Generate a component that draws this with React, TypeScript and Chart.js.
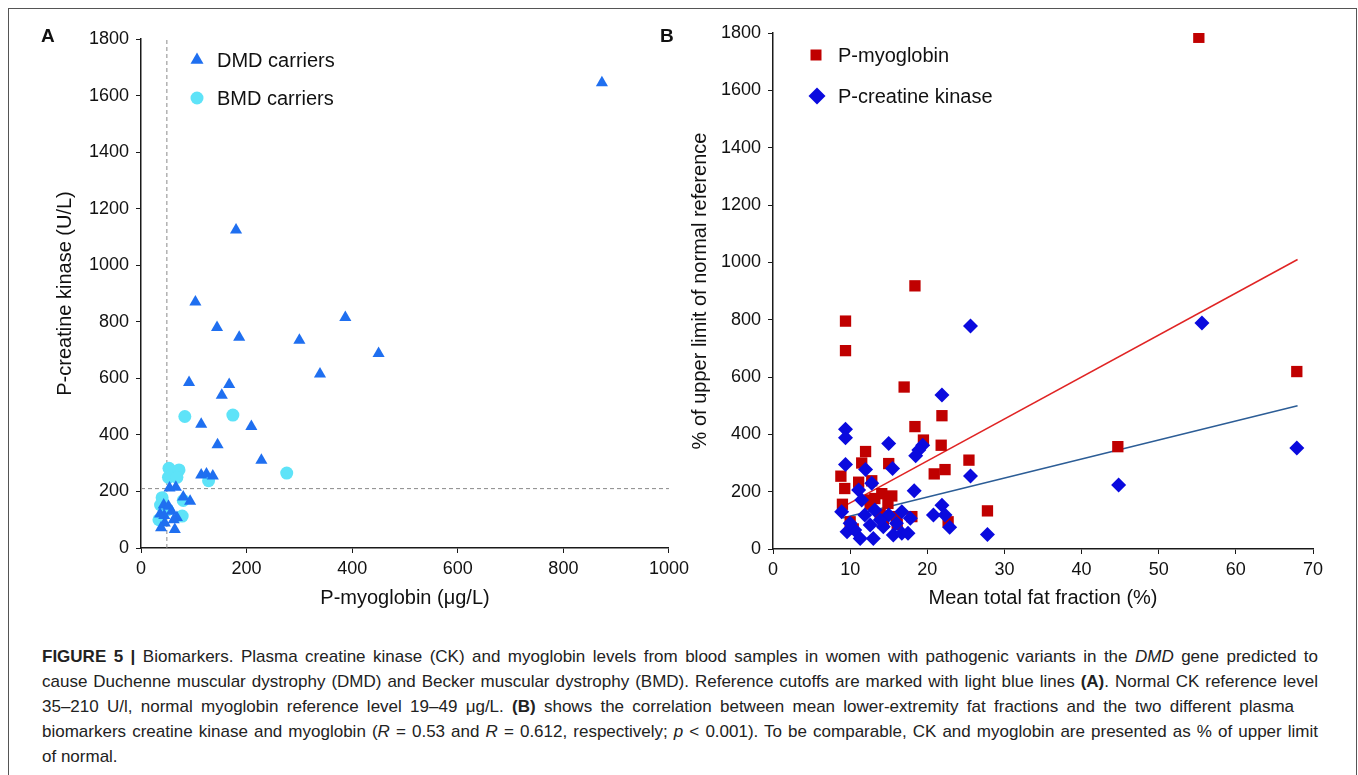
import React, { useEffect, useRef } from 'react';
import { Chart, registerables } from 'chart.js';

Chart.register(...registerables);

const FONT = '"Liberation Sans", Arial, Helvetica, sans-serif';
const AXIS = '#1a1a1a';
const TEXT = '#111111';

// ---------- Panel A data ----------
const dmdMyoglobin = [873, 180, 103, 144, 186, 300, 387, 450, 339, 91, 167, 153, 114, 209, 145, 228, 114, 124, 136, 54, 66, 80, 93, 43, 52, 58, 36, 44, 68, 62, 45, 38, 64];
const dmdCK = [1645, 1125, 870, 780, 745, 735, 815, 688, 615, 585, 578, 540, 438, 430, 365, 310, 258, 262, 255, 212, 215, 180, 165, 152, 148, 130, 120, 115, 108, 100, 88, 72, 65];
const bmdMyoglobin = [83, 174, 276, 53, 72, 52, 68, 128, 40, 80, 37, 78, 34, 50];
const bmdCK = [465, 470, 265, 282, 276, 250, 250, 238, 178, 168, 152, 113, 100, 135];
const myoRefX = [49, 49];
const myoRefY = [0, 1800];
const ckRefX = [0, 1000];
const ckRefY = [210, 210];
const aXTicks = [0, 200, 400, 600, 800, 1000];
const aYTicks = [0, 200, 400, 600, 800, 1000, 1200, 1400, 1600, 1800];

// ---------- Panel B data ----------
const myoFat = [55.2, 18.4, 9.4, 9.4, 17.0, 21.9, 18.4, 19.5, 21.8, 12.0, 11.5, 15.0, 25.4, 20.9, 22.3, 8.8, 11.1, 12.8, 9.3, 14.1, 15.4, 13.2, 9.0, 12.6, 14.9, 27.8, 44.7, 67.9, 18.0, 16.0, 22.7, 10.0, 14.3, 16.1, 13.9, 12.6, 10.4];
const myoPct = [1785, 918, 795, 692, 565, 465, 427, 380, 362, 340, 300, 298, 310, 262, 277, 254, 233, 238, 211, 193, 185, 176, 156, 156, 159, 133, 357, 619, 113, 113, 95, 95, 90, 86, 120, 171, 70];
const ckFat = [55.6, 25.6, 21.9, 9.4, 9.4, 15.0, 19.4, 18.9, 18.5, 9.4, 12.0, 15.5, 25.6, 12.8, 18.3, 11.1, 11.5, 44.8, 67.9, 8.9, 21.9, 20.8, 22.3, 22.9, 27.8, 11.9, 13.2, 15.0, 16.7, 17.8, 9.6, 10.6, 11.3, 13.0, 14.3, 15.6, 16.7, 17.5, 12.6, 13.9, 16.0, 10.0];
const ckPct = [788, 778, 537, 418, 388, 368, 362, 345, 325, 295, 277, 281, 255, 229, 203, 206, 171, 223, 352, 130, 153, 119, 119, 76, 51, 119, 136, 119, 130, 107, 60, 66, 37, 37, 78, 49, 55, 55, 84, 101, 90, 90];
const myoFitX = [9, 68];
const myoFitY = [146, 1010];
const ckFitX = [9, 68];
const ckFitY = [108, 500];
const bXTicks = [0, 10, 20, 30, 40, 50, 60, 70];
const bYTicks = [0, 200, 400, 600, 800, 1000, 1200, 1400, 1600, 1800];

const toPoints = (xs: number[], ys: number[]) => xs.map((x, i) => ({ x, y: ys[i] }));

function drawMarker(ctx: CanvasRenderingContext2D, style: string, x: number, y: number, r: number) {
  ctx.beginPath();
  if (style === 'triangle') {
    ctx.moveTo(x, y - r);
    ctx.lineTo(x + r * 0.866, y + r * 0.5);
    ctx.lineTo(x - r * 0.866, y + r * 0.5);
  } else if (style === 'circle') {
    ctx.arc(x, y, r, 0, Math.PI * 2);
  } else if (style === 'rect') {
    ctx.rect(x - r, y - r, 2 * r, 2 * r);
  } else {
    ctx.moveTo(x, y - r);
    ctx.lineTo(x + r, y);
    ctx.lineTo(x, y + r);
    ctx.lineTo(x - r, y);
  }
  ctx.closePath();
  ctx.fill();
}

type LegendItem = { label: string; style: string; color: string; mx: number; my: number; r: number; tx: number };

const legendPlugin = (items: LegendItem[]) => ({
  id: 'insideLegend',
  afterDraw(chart: any) {
    const ctx = chart.ctx as CanvasRenderingContext2D;
    ctx.save();
    items.forEach((it) => {
      ctx.fillStyle = it.color;
      drawMarker(ctx, it.style, it.mx, it.my, it.r);
      ctx.fillStyle = TEXT;
      ctx.font = `20px ${FONT}`;
      ctx.textBaseline = 'middle';
      ctx.textAlign = 'left';
      ctx.fillText(it.label, it.tx, it.my + 1);
    });
    ctx.restore();
  },
});

function axis(opts: { min: number; max: number; ticks: number[]; title: string; isY: boolean; size: number; titlePad: any }) {
  return {
    type: 'linear',
    min: opts.min,
    max: opts.max,
    afterBuildTicks: (s: any) => {
      s.ticks = opts.ticks.map((v) => ({ value: v }));
    },
    afterFit: (s: any) => {
      if (opts.isY) s.width = opts.size;
      else s.height = opts.size;
    },
    grid: { display: true, drawOnChartArea: false, drawTicks: true, tickLength: 5, color: AXIS, lineWidth: 1 },
    border: { display: true, color: AXIS, width: 1.5 },
    ticks: {
      font: { family: FONT, size: 18 },
      color: TEXT,
      padding: opts.isY ? 7 : 5,
      maxRotation: 0,
      autoSkip: false,
      callback: (v: any) => String(v),
    },
    title: { display: true, text: opts.title, font: { family: FONT, size: 20 }, color: TEXT, padding: opts.titlePad },
  };
}

function configA(): any {
  return {
    type: 'scatter',
    data: {
      datasets: [
        { label: 'DMD carriers', data: toPoints(dmdMyoglobin, dmdCK), pointStyle: 'triangle', pointRadius: 7, backgroundColor: '#1f6ff0', borderColor: '#1f6ff0', borderWidth: 0, order: 0 },
        { label: 'BMD carriers', data: toPoints(bmdMyoglobin, bmdCK), pointStyle: 'circle', pointRadius: 6.5, backgroundColor: '#5ee3f8', borderColor: '#5ee3f8', borderWidth: 0, order: 1 },
        { label: 'myo ref', data: toPoints(myoRefX, myoRefY), showLine: true, pointRadius: 0, borderColor: '#8a8a8a', borderWidth: 1, borderDash: [4, 3], order: 2 },
        { label: 'ck ref', data: toPoints(ckRefX, ckRefY), showLine: true, pointRadius: 0, borderColor: '#8a8a8a', borderWidth: 1, borderDash: [4, 3], order: 2 },
      ],
    },
    options: {
      responsive: false,
      animation: false,
      events: [],
      layout: { padding: { top: 31, right: 20, left: 0, bottom: 0 } },
      plugins: { legend: { display: false }, tooltip: { enabled: false } },
      scales: {
        x: axis({ min: 0, max: 1000, ticks: aXTicks, title: 'P-myoglobin (\u03bcg/L)', isY: false, size: 80, titlePad: { top: 0, bottom: 18 } }),
        y: axis({ min: 0, max: 1800, ticks: aYTicks, title: 'P-creatine kinase (U/L)', isY: true, size: 133, titlePad: { top: 45, bottom: 0 } }),
      },
    },
    plugins: [
      legendPlugin([
        { label: 'DMD carriers', style: 'triangle', color: '#1f6ff0', mx: 189, my: 52, r: 7.5, tx: 209 },
        { label: 'BMD carriers', style: 'circle', color: '#5ee3f8', mx: 189, my: 90, r: 6.5, tx: 209 },
      ]),
    ],
  };
}

function configB(): any {
  return {
    type: 'scatter',
    data: {
      datasets: [
        { label: 'P-creatine kinase', data: toPoints(ckFat, ckPct), pointStyle: 'rectRot', pointRadius: 7.5, backgroundColor: '#0a0ade', borderColor: '#0a0ade', borderWidth: 0, order: 0 },
        { label: 'P-myoglobin', data: toPoints(myoFat, myoPct), pointStyle: 'rect', pointRadius: 8, backgroundColor: '#c00000', borderColor: '#c00000', borderWidth: 0, order: 1 },
        { label: 'myo fit', data: toPoints(myoFitX, myoFitY), showLine: true, pointRadius: 0, borderColor: '#e02424', borderWidth: 1.5, order: 2 },
        { label: 'ck fit', data: toPoints(ckFitX, ckFitY), showLine: true, pointRadius: 0, borderColor: '#2c5d96', borderWidth: 1.5, order: 2 },
      ],
    },
    options: {
      responsive: false,
      animation: false,
      events: [],
      layout: { padding: { top: 25, right: 45, left: 0, bottom: 0 } },
      plugins: { legend: { display: false }, tooltip: { enabled: false } },
      scales: {
        x: axis({ min: 0, max: 70, ticks: bXTicks, title: 'Mean total fat fraction (%)', isY: false, size: 79, titlePad: { top: 0, bottom: 18 } }),
        y: axis({ min: 0, max: 1800, ticks: bYTicks, title: '% of upper limit of normal reference', isY: true, size: 93, titlePad: { top: 8, bottom: 0 } }),
      },
    },
    plugins: [
      legendPlugin([
        { label: 'P-myoglobin', style: 'rect', color: '#c00000', mx: 136, my: 47, r: 5.5, tx: 158 },
        { label: 'P-creatine kinase', style: 'diamond', color: '#0a0ade', mx: 137, my: 88, r: 8.5, tx: 158 },
      ]),
    ],
  };
}

function ChartBox({ make, left, top, width, height }: { make: () => any; left: number; top: number; width: number; height: number }) {
  const ref = useRef<HTMLCanvasElement | null>(null);
  useEffect(() => {
    const c = new Chart(ref.current as HTMLCanvasElement, make());
    return () => c.destroy();
  }, []);
  return (
    <canvas
      ref={ref}
      width={width}
      height={height}
      style={{ position: 'absolute', left, top, width, height }}
    />
  );
}

const lineStyle = (width: number): React.CSSProperties => ({
  width,
  height: 25,
  lineHeight: '25px',
  textAlign: 'justify',
  textAlignLast: 'justify' as any,
  whiteSpace: 'normal',
  overflow: 'visible',
});

export default function App() {
  const cap: React.CSSProperties = {
    position: 'absolute',
    left: 42,
    top: 644,
    fontFamily: FONT,
    fontSize: 17,
    color: '#222',
  };
  return (
    <div style={{ position: 'fixed', left: 0, top: 0, width: 1358, height: 775, overflow: 'hidden', background: '#fff' }}>
      <div style={{ position: 'absolute', left: 8, top: 8, width: 1347, height: 820, border: '1.5px solid #555' }} />
      <ChartBox make={configA} left={8} top={8} width={686} height={620} />
      <ChartBox make={configB} left={680} top={8} width={678} height={620} />
      <div style={{ position: 'absolute', left: 41, top: 25, fontFamily: FONT, fontWeight: 'bold', fontSize: 19, color: TEXT }}>A</div>
      <div style={{ position: 'absolute', left: 660, top: 25, fontFamily: FONT, fontWeight: 'bold', fontSize: 19, color: TEXT }}>B</div>
      <div style={cap}>
        <div style={lineStyle(1276)}>
          <b>FIGURE 5 |</b> Biomarkers. Plasma creatine kinase (CK) and myoglobin levels from blood samples in women with pathogenic variants in the <i>DMD</i> gene predicted to
        </div>
        <div style={lineStyle(1276)}>
          cause Duchenne muscular dystrophy (DMD) and Becker muscular dystrophy (BMD). Reference cutoffs are marked with light blue lines <b>(A)</b>. Normal CK reference level
        </div>
        <div style={lineStyle(1252)}>
          35–210 U/l, normal myoglobin reference level 19–49 μg/L. <b>(B)</b> shows the correlation between mean lower-extremity fat fractions and the two different plasma
        </div>
        <div style={lineStyle(1276)}>
          biomarkers creatine kinase and myoglobin (<i>R</i> = 0.53 and <i>R</i> = 0.612, respectively; <i>p</i> &lt; 0.001). To be comparable, CK and myoglobin are presented as % of upper limit
        </div>
        <div style={{ height: 25, lineHeight: '25px' }}>of normal.</div>
      </div>
    </div>
  );
}
